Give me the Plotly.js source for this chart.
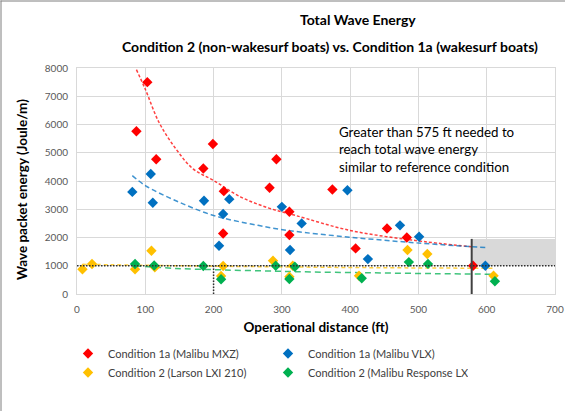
<!DOCTYPE html>
<html>
<head>
<meta charset="utf-8">
<script src="https://cdn.plot.ly/plotly-3.0.1.min.js"></script>
<style>
  html, body { margin: 0; padding: 0; background: #fff; }
  #chart { width: 565px; height: 411px; }
</style>
</head>
<body>
<div id="chart"></div>
<script>
// ---- Data ----
const seriesNames = [
  "Condition 1a (Malibu MXZ)",
  "Condition 1a (Malibu VLX)",
  "Condition 2 (Larson LXI 210)",
  "Condition 2 (Malibu Response LX)"
];
const mxzX = [87, 103, 116, 185, 199, 214, 215, 282, 292, 311, 311, 374, 408, 454, 483, 580];
const mxzY = [5760, 7500, 4770, 4440, 5310, 2140, 3640, 3760, 4770, 2910, 2090, 3700, 1615, 2320, 2000, 1000];

const vlxX = [81, 108, 111, 186, 208, 214, 223, 300, 312, 329, 396, 426, 473, 501, 598];
const vlxY = [3615, 4250, 3230, 3300, 1707, 2830, 3357, 3085, 1555, 2500, 3675, 1235, 2430, 2025, 1000];

const larsonX = [8, 22, 85, 109, 114, 211, 214, 287, 311, 316, 413, 484, 513, 610];
const larsonY = [875, 1060, 875, 1530, 945, 640, 990, 1180, 610, 1000, 645, 1560, 1415, 645];

const responseX = [85, 113, 185, 211, 291, 311, 319, 417, 486, 514, 612];
const responseY = [1060, 1010, 990, 520, 1000, 530, 965, 555, 1130, 1065, 450];

// Trendlines (power trend)
const mxzTrendX = [87, 100, 120, 145, 170, 200, 240, 280, 320, 400, 490, 578];
const mxzTrendY = [7940, 7250, 6080, 5130, 4430, 4020, 3430, 3050, 2780, 2250, 1910, 1670];
const vlxTrendX = [81, 100, 144, 200, 265, 312, 400, 497, 575, 598];
const vlxTrendY = [4190, 3840, 3310, 2780, 2430, 2240, 2010, 1810, 1680, 1650];
const larsonTrendX = [8, 50, 150, 300, 450, 610];
const larsonTrendY = [1050, 1035, 1000, 960, 930, 910];
const responseTrendX = [85, 145, 217, 290, 330, 430, 527, 612];
const responseTrendY = [995, 905, 850, 808, 785, 750, 720, 700];

// Reference markers
const referenceEnergy = 1000;       // reference condition level (J/m)
const referenceDistance = 200;      // dotted vertical guide (ft)
const thresholdDistance = 578;      // solid vertical line (ft)
const shadeTop = 1950;              // top of the shaded zone (J/m)
const xMax = 700, yMax = 8000;

const xTicks = [0, 100, 200, 300, 400, 500, 600, 700];
const yTicks = [0, 1000, 2000, 3000, 4000, 5000, 6000, 7000, 8000];

const colors = ["#ff0000", "#0070c0", "#ffc000", "#00b050"];
const FONT = "Lato, 'Open Sans', sans-serif";

function pts(x, y, i) {
  return {
    type: "scatter", mode: "markers", x: x, y: y, name: seriesNames[i],
    marker: { symbol: "diamond", size: 8, color: colors[i], line: { width: 0 } },
    hoverinfo: "x+y"
  };
}
function trend(x, y, i, dash) {
  return {
    type: "scatter", mode: "lines", x: x, y: y, showlegend: false,
    line: { color: colors[i], width: 1.5, dash: dash, shape: "spline", smoothing: 1 },
    opacity: 0.75, hoverinfo: "skip"
  };
}

const data = [
  trend(mxzTrendX, mxzTrendY, 0, "3px,2px"),
  trend(vlxTrendX, vlxTrendY, 1, "5px,3px"),
  trend(larsonTrendX, larsonTrendY, 2, "4px,3px"),
  trend(responseTrendX, responseTrendY, 3, "6px,4px"),
  pts(mxzX, mxzY, 0),
  pts(vlxX, vlxY, 1),
  pts(larsonX, larsonY, 2),
  pts(responseX, responseY, 3)
];

const L = 77, R = 10, T = 68, B = 117, W = 565, H = 411;
const pw = W - L - R, ph = H - T - B;
const px2x = p => (p - L) / pw;
const py2y = p => (H - B - p) / ph;

const layout = {
  width: W, height: H,
  margin: { l: L, r: R, t: T, b: B, pad: 0 },
  paper_bgcolor: "#ffffff", plot_bgcolor: "#ffffff",
  font: { family: FONT, color: "#000" },
  showlegend: true,
  xaxis: {
    range: [0, xMax], tickvals: xTicks, ticktext: xTicks.map(String),
    showgrid: true, gridcolor: "#d9d9d9", gridwidth: 1,
    zeroline: false, showline: true, linecolor: "#d9d9d9", mirror: true,
    ticks: "", tickfont: { size: 10, color: "#595959", family: FONT },
    ticklabelstandoff: 6,
    title: { text: "<b>Operational distance (ft)</b>", font: { size: 13.5, color: "#000", family: FONT }, standoff: 8 }
  },
  yaxis: {
    range: [0, yMax], tickvals: yTicks, ticktext: yTicks.map(String),
    showgrid: true, gridcolor: "#d9d9d9", gridwidth: 1,
    zeroline: false, showline: true, linecolor: "#d9d9d9", mirror: true,
    ticks: "", tickfont: { size: 10, color: "#595959", family: FONT },
    ticklabelstandoff: 6
  },
  legend: {
    orientation: "h", x: px2x(68), xanchor: "left", y: py2y(339), yanchor: "top",
    entrywidth: 155, entrywidthmode: "pixels", itemwidth: 30,
    font: { size: 11, color: "#404040", family: FONT },
    bgcolor: "rgba(0,0,0,0)", tracegroupgap: 0
  },
  shapes: [
    { type: "rect", xref: "x", yref: "y", x0: thresholdDistance, x1: xMax, y0: referenceEnergy, y1: shadeTop,
      fillcolor: "#d9d9d9", line: { width: 0 }, layer: "between" },
    { type: "line", xref: "x", yref: "y", x0: 0, x1: xMax, y0: referenceEnergy, y1: referenceEnergy,
      line: { color: "#303030", width: 1.5, dash: "1.5px,1.5px" } },
    { type: "line", xref: "x", yref: "y", x0: referenceDistance, x1: referenceDistance, y0: 0, y1: referenceEnergy,
      line: { color: "#303030", width: 1.5, dash: "1.5px,1.5px" } },
    { type: "line", xref: "x", yref: "y", x0: thresholdDistance, x1: thresholdDistance, y0: 0, y1: shadeTop,
      line: { color: "#404040", width: 2 } },
    // chart border (top and left edges)
    { type: "line", xref: "paper", yref: "paper", x0: px2x(0.5), x1: px2x(W), y0: py2y(1), y1: py2y(1),
      line: { color: "#7f7f7f", width: 1 } },
    { type: "line", xref: "paper", yref: "paper", x0: px2x(1), x1: px2x(1), y0: py2y(0.5), y1: py2y(H),
      line: { color: "#7f7f7f", width: 1 } }
  ],
  annotations: [
    { xref: "paper", yref: "paper", x: px2x(358), y: py2y(20), xanchor: "center", yanchor: "middle",
      text: "<b>Total Wave Energy</b>", showarrow: false, font: { size: 14, family: FONT, color: "#000" } },
    { xref: "paper", yref: "paper", x: px2x(330), y: py2y(46), xanchor: "center", yanchor: "middle",
      text: "<b>Condition 2 (non-wakesurf boats) vs. Condition 1a (wakesurf boats)</b>", showarrow: false,
      font: { size: 14, family: FONT, color: "#000" } },
    { xref: "paper", yref: "paper", x: px2x(22), y: py2y(190), xanchor: "center", yanchor: "middle",
      text: "<b>Wave packet energy (Joule/m)</b>", textangle: -90, showarrow: false,
      font: { size: 13.5, family: FONT, color: "#000" } },
    { xref: "paper", yref: "paper", x: px2x(337), y: py2y(122), xanchor: "left", yanchor: "top",
      align: "left", showarrow: false,
      text: "Greater than 575 ft needed to<br>reach total wave energy<br>similar to reference condition",
      font: { size: 13.3, family: FONT, color: "#000" } }
  ]
};

Plotly.newPlot("chart", data, layout, { displayModeBar: false, staticPlot: true });
</script>
</body>
</html>
